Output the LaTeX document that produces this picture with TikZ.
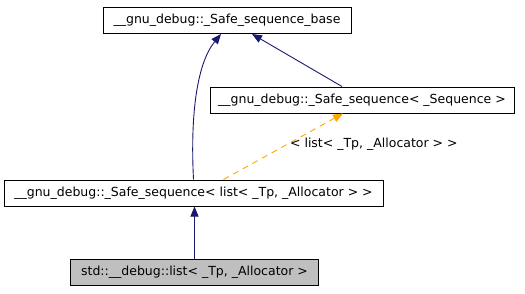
\documentclass[tikz,border=0pt]{standalone}
\usepackage{fontspec}
\setmainfont{DejaVu Sans}
\usetikzlibrary{arrows.meta}
\definecolor{edgeblue}{HTML}{191970}
\definecolor{edgeorange}{HTML}{FFA500}
\begin{document}
\begin{tikzpicture}[x=1pt,y=-1pt,
  cls/.style={draw=black, line width=1pt, inner sep=0pt, minimum height=26pt, font=\fontsize{12.5}{15}\selectfont, fill=white},
  inh/.style={draw=edgeblue, line width=0.9pt, -{Triangle[length=10pt,width=8pt]}},
  tmpl/.style={draw=edgeorange, line width=0.9pt, dash pattern=on 6pt off 5pt, -{Triangle[length=10pt,width=8pt]}},
  lbl/.style={inner sep=0pt, font=\fontsize{12.5}{15}\selectfont}]
\useasboundingbox (0,0) rectangle (525,293);
\node[cls, minimum width=248pt] (b1) at (227,20.5) {\_\_gnu\_debug::\_Safe\_sequence\_base};
\node[cls, minimum width=304pt] (b2) at (362,100) {\_\_gnu\_debug::\_Safe\_sequence< \_Sequence >};
\node[cls, minimum width=379pt] (b3) at (193.5,193) {\_\_gnu\_debug::\_Safe\_sequence< list< \_Tp, \_Allocator > >};
\node[cls, minimum width=248pt, fill={rgb,255:red,191;green,191;blue,191}] (b4) at (194.5,272.5) {std::\_\_debug::list< \_Tp, \_Allocator >};
\draw[inh] (b4.north) -- (b4.north |- b3.south);
\draw[inh] (b3.north) .. controls (190,110) and (198,62) .. ([xshift=-6pt]b1.south);
\draw[inh] ([xshift=-20pt]b2.north) -- ([xshift=25pt]b1.south);
\draw[tmpl] ([xshift=30pt]b3.north) -- ([xshift=-19pt]b2.south) node[lbl, pos=0.52, anchor=west, xshift=4pt, yshift=1pt] (l1) {< list< \_Tp, \_Allocator > >};
\end{tikzpicture}
\end{document}
